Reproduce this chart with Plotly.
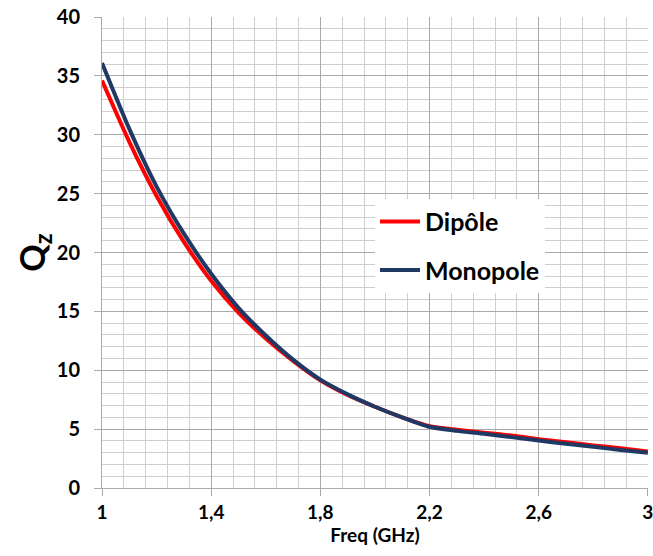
import plotly.graph_objects as go

# frequency grid (GHz) and Q values
freq = [1.0, 1.1, 1.2, 1.3, 1.4, 1.5, 1.6, 1.7, 1.8, 1.9, 2.0,
        2.1, 2.2, 2.3, 2.4, 2.5, 2.6, 2.7, 2.8, 2.9, 3.0]
q_dipole = [34.6, 29.4, 24.8, 20.9, 17.6, 14.9, 12.7, 10.8, 9.15, 7.9, 6.9,
            6.0, 5.25, 4.95, 4.7, 4.45, 4.15, 3.88, 3.62, 3.37, 3.1]
q_monopole = [36.1, 30.5, 25.6, 21.6, 18.2, 15.3, 12.95, 10.9, 9.2, 7.95, 6.9,
              6.0, 5.2, 4.85, 4.6, 4.32, 4.03, 3.75, 3.5, 3.23, 3.0]

x_tickvals = [1.0, 1.4, 1.8, 2.2, 2.6, 3.0]
x_ticktext = ["1", "1,4", "1,8", "2,2", "2,6", "3"]
y_tickvals = [0, 5, 10, 15, 20, 25, 30, 35, 40]

FONT = "Lato, 'Open Sans', sans-serif"
MAJOR_GRID = "#A9A9A9"
MINOR_GRID = "#CFCFCF"

fig = go.Figure()
fig.add_trace(go.Scatter(
    x=freq, y=q_dipole, name="Dipôle", mode="lines", legendgroup="d",
    line={"color": "#FF0000", "width": 4, "shape": "spline", "smoothing": 0.6},
))
fig.add_trace(go.Scatter(
    x=freq, y=q_monopole, name="Monopole", mode="lines", legendgroup="m",
    line={"color": "#1F3864", "width": 4, "shape": "spline", "smoothing": 0.6},
))

fig.update_layout(
    width=653,
    height=556,
    margin={"l": 102, "r": 5, "t": 17, "b": 68},
    paper_bgcolor="white",
    plot_bgcolor="white",
    font={"family": FONT, "color": "#000000"},
    showlegend=True,
    legend={
        "x": 0.5, "y": 0.614, "xanchor": "left", "yanchor": "top",
        "bgcolor": "white", "borderwidth": 0,
        "font": {"size": 25, "family": FONT, "weight": "bold"},
        "tracegroupgap": 13,
        "itemwidth": 40,
    },
    xaxis={
        "range": [1, 3.0005],
        "automargin": False,
        "tickvals": x_tickvals,
        "ticktext": x_ticktext,
        "ticklabeloverflow": "allow",
        "tickfont": {"size": 19, "weight": "bold"},
        "ticks": "outside", "ticklen": 7, "tickcolor": MAJOR_GRID,
        "showgrid": True, "gridcolor": MAJOR_GRID, "gridwidth": 1,
        "minor": {"dtick": 0.08, "tick0": 1, "showgrid": True, "gridcolor": MINOR_GRID, "gridwidth": 1},
        "showline": True, "linecolor": MAJOR_GRID, "linewidth": 1,
        "zeroline": False,
        "title": {"text": "Freq (GHz)", "font": {"size": 19, "weight": "bold"}, "standoff": 4},
    },
    yaxis={
        "range": [0, 40.0005],
        "automargin": False,
        "tickvals": y_tickvals,
        "ticklabeloverflow": "allow",
        "ticklabelstandoff": 10,
        "tickfont": {"size": 20, "weight": "bold"},
        "ticks": "outside", "ticklen": 7, "tickcolor": MAJOR_GRID,
        "showgrid": True, "gridcolor": MAJOR_GRID, "gridwidth": 1,
        "minor": {"dtick": 1, "tick0": 0, "showgrid": True, "gridcolor": MINOR_GRID, "gridwidth": 1},
        "showline": True, "linecolor": MAJOR_GRID, "linewidth": 1,
        "zeroline": False,
        "title": {"text": "Q<sub>z</sub>", "font": {"size": 34, "weight": "bold"}, "standoff": 0},
    },
)

# drop the default body margin so the figure sits flush in the window
fig.write_html(
    "out.html",
    config={"displayModeBar": False},
    post_script="document.body.style.margin='0';document.body.style.overflow='hidden';",
)
